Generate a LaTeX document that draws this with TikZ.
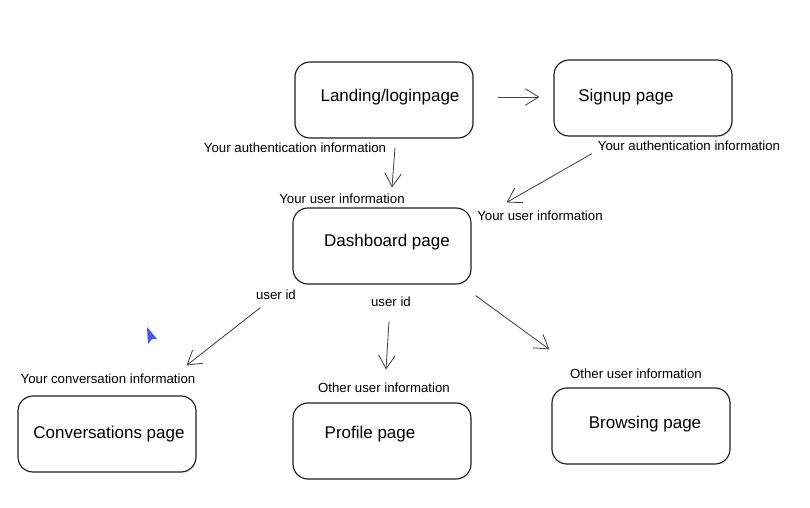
\documentclass[tikz,border=0pt]{standalone}
\usepackage{fontspec}
\setmainfont{Liberation Sans}
\usetikzlibrary{arrows.meta}
\definecolor{inkgray}{RGB}{30,30,30}
\definecolor{cursorblue}{RGB}{70,90,225}
\tikzset{
  page/.style={draw=inkgray, line width=1pt, rounded corners=0.45cm, minimum width=5.34cm, minimum height=2.28cm},
  pagetext/.style={font=\fontsize{14.5}{16}\selectfont, inner sep=0pt},
  info/.style={font=\fontsize{11.3}{13}\selectfont, inner sep=1pt},
  flow/.style={draw=inkgray!85, line width=0.7pt, -{Straight Barb[length=4mm,width=5mm]}}
}
\begin{document}
\begin{tikzpicture}[x=0.03cm,y=-0.03cm]
\useasboundingbox (0,0) rectangle (810,508);
% pages
\node[page] (landing) at (384,100) {};
\node[page] (signup) at (643,98) {};
\node[page] (dashboard) at (382,246) {};
\node[page] (conversations) at (107,434) {};
\node[page] (profile) at (382,441) {};
\node[page] (browsing) at (641,426) {};
\node[pagetext] (landingtxt) at (390,97) {Landing/loginpage};
\node[pagetext] (signuptxt) at (626,97) {Signup page};
\node[pagetext] (dashboardtxt) at (387,242) {Dashboard page};
\node[pagetext] (conversationstxt) at (109,434) {Conversations page};
\node[pagetext] (profiletxt) at (370,434) {Profile page};
\node[pagetext] (browsingtxt) at (645,424) {Browsing page};
% connectors
\draw[flow] ([shift={(24,-3)}]landing.east) -- ([shift={(-14,-1)}]signup.west);
\draw[flow] ([shift={(11,9)}]landing.south) -- ([shift={(10,-20)}]dashboard.north);
\draw[flow] ([shift={(-51,17)}]signup.south) -- ([shift={(35,-5)}]dashboard.north east);
\draw[flow] ([shift={(-32,23)}]dashboard.south west) -- ([shift={(-10,-30)}]conversations.north east);
\draw[flow] ([shift={(7,37)}]dashboard.south) -- ([shift={(4,-33)}]profile.north);
\draw[flow] ([shift={(4,11)}]dashboard.south east) -- ([shift={(-2,-38)}]browsing.north west);
% information labels
\node[info] (authleft) at (295,148) {Your authentication information};
\node[info] (userleft) at (342,199) {Your user information};
\node[info] (authright) at (689,146) {Your authentication information};
\node[info] (userright) at (540,216) {Your user information};
\node[info] (idleft) at (276,295) {user id};
\node[info] (idmid) at (391,302) {user id};
\node[info] (convinfo) at (108,379) {Your conversation information};
\node[info] (otherprofile) at (384,388) {Other user information};
\node[info] (otherbrowse) at (636,374) {Other user information};
% cursor
\fill[cursorblue] (147,327) -- (157,339) -- (152,339) -- (148,344) -- cycle;
\end{tikzpicture}
\end{document}
